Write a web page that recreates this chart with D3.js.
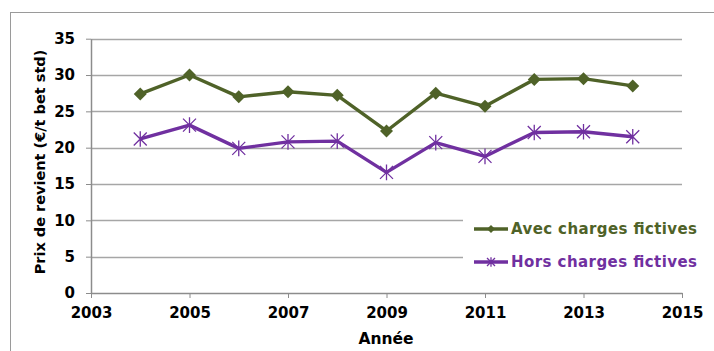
<!DOCTYPE html>
<html>
<head>
<meta charset="utf-8">
<script src="https://cdn.jsdelivr.net/npm/d3@7/dist/d3.min.js"></script>
<style>
  html, body { margin: 0; padding: 0; background: #fff; }
  svg { display: block; }
  text { font-family: "DejaVu Sans", Verdana, sans-serif; font-weight: bold; }
</style>
</head>
<body>
<svg id="chart" width="714" height="351"></svg>
<script>
// Prix de revient par année, avec et hors charges fictives (€/t bet std)
const years = [2004, 2005, 2006, 2007, 2008, 2009, 2010, 2011, 2012, 2013, 2014];
const avecCharges = [27.4, 30.0, 27.0, 27.7, 27.2, 22.3, 27.5, 25.7, 29.4, 29.5, 28.5];
const horsCharges = [21.2, 23.1, 19.9, 20.8, 20.9, 16.6, 20.7, 18.8, 22.1, 22.2, 21.5];
const xTicks = [2003, 2005, 2007, 2009, 2011, 2013, 2015];
const yTicks = [0, 5, 10, 15, 20, 25, 30, 35];
const seriesNames = ["Avec charges fictives", "Hors charges fictives"];

const green = "#4F6228";
const purple = "#7030A0";

const svg = d3.select("#chart");

// outer chart frame
svg.append("rect")
  .attr("x", 10.5).attr("y", 12.5)
  .attr("width", 720).attr("height", 360)
  .attr("fill", "none").attr("stroke", "#9a9a9a").attr("stroke-width", 1);

const plot = { left: 91, right: 682, top: 38.7, bottom: 293 };

const x = d3.scaleLinear().domain([2003, 2015]).range([plot.left, plot.right]);
const y = d3.scaleLinear().domain([0, 35]).range([plot.bottom, plot.top]);

// horizontal gridlines
svg.append("g")
  .selectAll("line")
  .data(yTicks.filter(d => d > 0))
  .join("line")
  .attr("x1", plot.left).attr("x2", plot.right)
  .attr("y1", d => Math.round(y(d)) + 0.5).attr("y2", d => Math.round(y(d)) + 0.5)
  .attr("stroke", "#a6a6a6").attr("stroke-width", 1.3);

// y axis
const yAxis = svg.append("g")
  .attr("transform", `translate(${plot.left},0)`)
  .call(d3.axisLeft(y).tickValues(yTicks).tickSize(5).tickPadding(11).tickSizeOuter(0));
yAxis.select(".domain").attr("stroke", "#8c8c8c").attr("stroke-width", 1.5);
yAxis.selectAll(".tick line").attr("stroke", "#8c8c8c");
yAxis.selectAll(".tick text")
  .attr("font-size", "15px").attr("fill", "#000")
  .attr("font-family", "DejaVu Sans, Verdana, sans-serif").attr("font-weight", "bold");

// x axis
const xAxis = svg.append("g")
  .attr("transform", `translate(0,${plot.bottom})`)
  .call(d3.axisBottom(x).tickValues(xTicks).tickFormat(d3.format("d")).tickSize(5).tickPadding(9).tickSizeOuter(0));
xAxis.select(".domain").attr("stroke", "#8c8c8c").attr("stroke-width", 1.5);
xAxis.selectAll(".tick line").attr("stroke", "#8c8c8c");
xAxis.selectAll(".tick text")
  .attr("font-size", "15px").attr("fill", "#000")
  .attr("font-family", "DejaVu Sans, Verdana, sans-serif").attr("font-weight", "bold");

// axis titles
svg.append("text")
  .attr("transform", `translate(45,162) rotate(-90)`)
  .attr("text-anchor", "middle")
  .attr("font-size", "14.5px").attr("fill", "#000")
  .text("Prix de revient (€/t bet std)");

svg.append("text")
  .attr("x", 386).attr("y", 344)
  .attr("text-anchor", "middle")
  .attr("font-size", "15.5px").attr("fill", "#000")
  .text("Année");

// legend background covers gridlines behind it
svg.append("rect")
  .attr("x", 463).attr("y", 200).attr("width", 219).attr("height", 80)
  .attr("fill", "#fff");

const line = d3.line().x((d, i) => x(years[i])).y(d => y(d));

function diamond(g, cx, cy, r, color) {
  g.append("path")
    .attr("d", `M${cx},${cy - r}L${cx + r},${cy}L${cx},${cy + r}L${cx - r},${cy}Z`)
    .attr("fill", color);
}
function star(g, cx, cy, r, color) {
  const p = d3.path();
  p.moveTo(cx - r, cy - r); p.lineTo(cx + r, cy + r);
  p.moveTo(cx - r, cy + r); p.lineTo(cx + r, cy - r);
  p.moveTo(cx, cy - r * 1.2); p.lineTo(cx, cy + r * 1.2);
  g.append("path").attr("d", p.toString())
    .attr("stroke", color).attr("stroke-width", 1.3).attr("fill", "none");
}

// series: avec charges fictives
const gA = svg.append("g");
gA.append("path").datum(avecCharges)
  .attr("d", line).attr("fill", "none")
  .attr("stroke", green).attr("stroke-width", 3.4).attr("stroke-linejoin", "round");
avecCharges.forEach((v, i) => diamond(gA, x(years[i]), y(v), 6.5, green));

// series: hors charges fictives
const gH = svg.append("g");
gH.append("path").datum(horsCharges)
  .attr("d", line).attr("fill", "none")
  .attr("stroke", purple).attr("stroke-width", 3.4).attr("stroke-linejoin", "round");
horsCharges.forEach((v, i) => star(gH, x(years[i]), y(v), 6.5, purple));

// legend
const legend = [
  { name: seriesNames[0], color: green, yy: 229, mark: diamond, r: 4 },
  { name: seriesNames[1], color: purple, yy: 262, mark: star, r: 4 }
];
legend.forEach(l => {
  svg.append("line")
    .attr("x1", 474).attr("x2", 508).attr("y1", l.yy).attr("y2", l.yy)
    .attr("stroke", l.color).attr("stroke-width", 3.4);
  l.mark(svg, 491, l.yy, l.r, l.color);
  svg.append("text")
    .attr("x", 511).attr("y", l.yy + 5)
    .attr("font-size", "15px").attr("fill", l.color)
    .attr("textLength", 186).attr("lengthAdjust", "spacing")
    .text(l.name);
});
</script>
</body>
</html>
